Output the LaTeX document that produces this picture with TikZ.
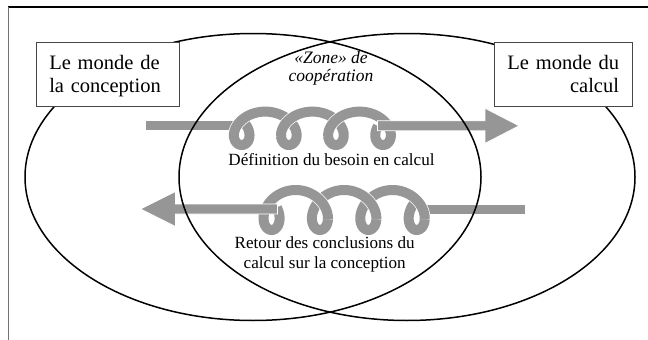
\documentclass[tikz,border=0pt]{standalone}
\usepackage{fontspec}
\setmainfont{Liberation Serif}
\definecolor{bandgray}{RGB}{150,150,150}
\definecolor{boxline}{RGB}{70,70,70}
% one stretch of a coiled band: #1 origin x, #2 centre y, #3 advance per radian,
% #4 sideways sweep, #5 half height, #6 direction (1 or -1), #7..#8 parameter range
\newcommand\coilseg[8]{%
  \draw[coilband] plot[domain=#7:#8, samples=70, smooth, variable=\t]
    ({#1+#6*(#3*\t-#4*sin(\t r))}, {#2+#5*cos(\t r)});}
\begin{document}
\begin{tikzpicture}[x=1pt, y=-1pt,
  coilband/.style={draw=white, line width=0.7pt, double=bandgray, double distance=10pt},
  flatband/.style={draw=white, line width=0.7pt, fill=bandgray},
  world/.style={draw=black, line width=1.5pt},
  worldbox/.style={draw=boxline, line width=0.9pt, fill=white, inner sep=0pt,
    minimum height=63.3pt},
  boxtext/.style={inner sep=0pt, font=\fontsize{20.5}{23.4}\selectfont},
  label/.style={inner sep=0pt, align=center, font=\fontsize{17.1}{20}\selectfont},
  zone/.style={inner sep=0pt, align=center, font=\fontsize{17.5}{18.4}\selectfont\itshape}]
\useasboundingbox (0,0) rectangle (648,340);

% page frame
\draw[black, line width=1.3pt] (8,7) -- (648,7);
\draw[black!55, line width=1pt] (8,7) -- (8,340);

% ---- upper flow: conception -> calcul ----
\draw[flatband] (145,120.8) rectangle (238,130.8);
\coilseg{241.7}{128.3}{7.5}{18}{16.7}{1}{-2.08}{1.1}
\coilseg{241.7}{128.3}{7.5}{18}{16.7}{1}{1.1}{7.3832}
\coilseg{241.7}{128.3}{7.5}{18}{16.7}{1}{7.3832}{13.6664}
\coilseg{241.7}{128.3}{7.5}{18}{16.7}{1}{13.6664}{20.5496}
\draw[flatband] (377.5,120.8) -- (485,120.8) -- (485,108.3) -- (519,125.8)
  -- (485,143.3) -- (485,130.8) -- (377.5,130.8) -- cycle;

% ---- lower flow: calcul -> conception ----
\draw[flatband] (420,204) rectangle (525.6,214);
\coilseg{416.7}{210}{7.7}{18.5}{20}{-1}{-2.08}{1.1}
\coilseg{416.7}{210}{7.7}{18.5}{20}{-1}{1.1}{7.3832}
\coilseg{416.7}{210}{7.7}{18.5}{20}{-1}{7.3832}{13.6664}
\coilseg{416.7}{210}{7.7}{18.5}{20}{-1}{13.6664}{20.5496}
\draw[flatband] (277.5,204) -- (175.5,204) -- (175.5,191.5) -- (140.5,209)
  -- (175.5,226.5) -- (175.5,214) -- (277.5,214) -- cycle;

% the two worlds
\draw[world] (253,177) ellipse [x radius=228pt, y radius=143.5pt];
\draw[world] (407,177) ellipse [x radius=228pt, y radius=143.5pt];

\node[worldbox, minimum width=143pt] (conception) at (107.5,74.35) {};
\node[worldbox, minimum width=138pt] (calcul) at (563,74.35) {};
\node[boxtext, text width=116.5pt, align=left] (conceptiontext)
  at (107.5,76.3) {Le monde de\\la conception};
\node[boxtext, text width=112pt, align=right] (calcultext)
  at (563,74.05) {Le monde du\\calcul};

\node[zone] (zonecoop) at (331,68.4) {«Zone» de\\coopération};
\node[label, anchor=base] (besoin) at (331.5,165) {Définition du besoin en calcul};
\node[label] (retour) at (324.7,254.3) {Retour des conclusions du\\calcul sur la conception};
\end{tikzpicture}
\end{document}
